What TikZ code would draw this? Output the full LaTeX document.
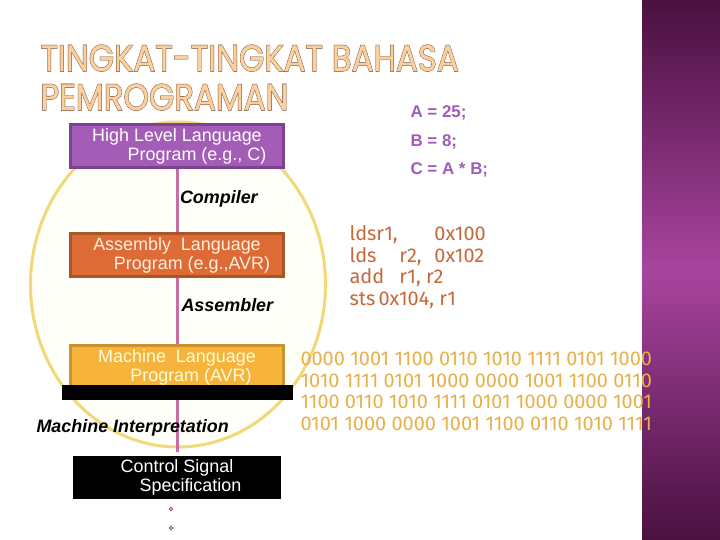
\documentclass[tikz,border=0pt]{standalone}
\usepackage{fontspec}
\setmainfont{Liberation Sans}
\newfontfamily\titlefont[FakeBold=1]{Poppins}
\newfontfamily\titlerim[FakeBold=3]{Poppins}
\newfontfamily\codefont{Fira Sans}
\definecolor{hllfill}{HTML}{A35DB7}
\definecolor{hlldraw}{HTML}{7C4490}
\definecolor{asmfill}{HTML}{DE6A35}
\definecolor{asmdraw}{HTML}{A85528}
\definecolor{mchfill}{HTML}{F6B43C}
\definecolor{mchdraw}{HTML}{C8922E}
\definecolor{ringcol}{HTML}{F2D878}
\definecolor{linkcol}{HTML}{C86EA5}
\definecolor{ccol}{HTML}{A05CB8}
\definecolor{asmcode}{HTML}{C4683A}
\definecolor{bincol}{HTML}{E8B048}
\definecolor{titlein}{HTML}{FAD0A0}
\definecolor{titleout}{HTML}{5A2A10}
\definecolor{banddark}{HTML}{4A1040}
\definecolor{bandmid}{HTML}{A8449E}

\begin{document}
\begin{tikzpicture}[x=1bp,y=-1bp,line width=1bp,
  level/.style={rectangle,line width=3bp,minimum width=213bp,minimum height=43bp,
    inner sep=0pt,align=center,font=\fontsize{18}{19}\selectfont},
  stage/.style={anchor=base west,inner sep=0pt,font=\fontsize{18}{19}\selectfont\bfseries\itshape},
  titlerimtext/.style={anchor=base west,inner sep=0pt,xscale=0.88,text=titleout,
    font=\titlerim\fontsize{37}{37}\selectfont},
  titletext/.style={anchor=base west,inner sep=0pt,xscale=0.88,text=titlein,
    font=\titlefont\fontsize{37}{37}\selectfont},
  ctext/.style={anchor=base west,inner sep=0pt,text=ccol,font=\fontsize{17}{17}\selectfont\bfseries},
  asmtext/.style={anchor=base west,inner sep=0pt,text=asmcode,font=\codefont\fontsize{20}{20}\selectfont},
  bintext/.style={anchor=base west,inner sep=0pt,text=bincol,font=\codefont\fontsize{20}{20}\selectfont},
  link/.style={linkcol,line width=3bp}]
  \useasboundingbox (0,0) rectangle (720,540);
  % pita ungu di kanan
  \shade[top color=banddark,bottom color=banddark,middle color=bandmid] (642,0) rectangle (720,540);
  % judul
  \node[titlerimtext] (t1rim) at (40,71) {TINGKAT-TINGKAT BAHASA};
  \node[titletext] (t1) at (40,71) {TINGKAT-TINGKAT BAHASA};
  \node[titlerimtext] (t2rim) at (40,110) {PEMROGRAMAN};
  \node[titletext] (t2) at (40,110) {PEMROGRAMAN};
  % lingkaran latar
  \draw[ringcol,line width=3bp,fill=yellow!2] (178,284.5) ellipse [x radius=147.5,y radius=162.5];
  % tingkat-tingkat
  \node[level,draw=hlldraw,fill=hllfill,text=white] (hll) at (177,146.5)
    {High Level Language\\\hspace*{40bp}Program (e.g., C)};
  \node[level,draw=asmdraw,fill=asmfill,text=orange!12] (asm) at (177,255)
    {Assembly\ \ Language\\\hspace*{30bp}Program (e.g.,AVR)};
  \node[level,draw=mchdraw,fill=mchfill,text=yellow!15] (mch) at (177,367)
    {Machine\ \ Language\\\hspace*{28bp}Program (AVR)};
  \node[level,draw=none,fill=black,text=white,minimum width=208bp] (ctl) at (177,477.5)
    {Control Signal\\\hspace*{27bp}Specification};
  % garis penghubung
  \draw[link] (hll.south) -- (asm.north);
  \draw[link] (asm.south) -- (mch.north);
  \draw[link,shorten >=3bp] (mch.south) -- (ctl.north);
  \fill[black] (62,385) rectangle (293,400);
  % proses
  \node[stage] (cmp) at (179.5,204) {Compiler};
  \node[stage] (asr) at (181,311) {Assembler};
  \node[stage] (mit) at (36,432) {Machine Interpretation};
  % titik kecil
  \foreach \y in {509,528} \draw[linkcol!70!black,line width=0.8bp] (171,\y) circle (1.8);
  % kode C
  \node[ctext] (ca) at (410,118) {A = 25;};
  \node[ctext] (cb) at (410,147) {B = 8;};
  \node[ctext] (cc) at (410,175) {C = A * B;};
  % kode assembly
  \node[asmtext] (a1) at (349,241) {\makebox[85bp][l]{ldsr1,}0x100};
  \node[asmtext] (a2) at (349,262.5) {\makebox[50bp][l]{lds}\makebox[35bp][l]{r2,}0x102};
  \node[asmtext] (a3) at (349,284) {\makebox[50bp][l]{add}r1, r2};
  \node[asmtext] (a4) at (349,305.5) {sts\,0x104, r1};
  % kode mesin
  \node[bintext] (b1) at (300,365) {0000 1001 1100 0110 1010 1111 0101 1000};
  \node[bintext] (b2) at (300,387) {1010 1111 0101 1000 0000 1001 1100 0110};
  \node[bintext] (b3) at (300,408.5) {1100 0110 1010 1111 0101 1000 0000 1001};
  \node[bintext] (b4) at (300,430) {0101 1000 0000 1001 1100 0110 1010 1111};
\end{tikzpicture}
\end{document}
